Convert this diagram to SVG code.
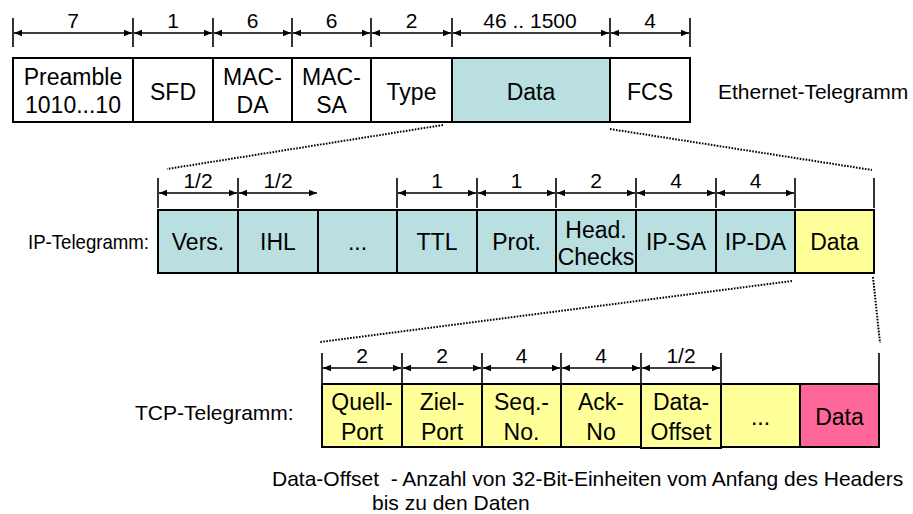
<svg xmlns="http://www.w3.org/2000/svg" width="913" height="514" viewBox="0 0 913 514">
  <defs>
    <marker id="tip" viewBox="0 0 8 8" refX="8" refY="4" markerWidth="8" markerHeight="8" markerUnits="userSpaceOnUse" orient="auto-start-reverse">
      <path d="M0,0.8 L8,4 L0,7.2 Z" fill="#000"/>
    </marker>
  </defs>
  <style>
    text { font-family: "Liberation Sans", Arial, sans-serif; fill: #000; }
    .lbl { font-size: 23px; text-anchor: middle; }
    .num { font-size: 21px; text-anchor: middle; }
    .side { font-size: 21px; }
    .note { font-size: 21px; }
    .cell { stroke: #000; stroke-width: 2; }
    .w { fill: #fff; }
    .b { fill: #b9dfe1; }
    .y { fill: #ffff99; }
    .p { fill: #ff6699; }
    .tick { stroke: #000; stroke-width: 1.6; }
    .dim { stroke: #000; stroke-width: 1.3; marker-start: url(#tip); marker-end: url(#tip); }
    .dot { stroke: #000; stroke-width: 2; stroke-dasharray: 1.6 1.4; fill: none; }
  </style>

  <!-- Ethernet frame -->
  <g id="eth-preamble"><rect class="cell w" x="13" y="58" width="120" height="64"/><text class="lbl" x="73" y="85">Preamble</text><text class="lbl" x="73" y="113">1010...10</text></g>
  <g id="eth-sfd"><rect class="cell w" x="133" y="58" width="80" height="64"/><text class="lbl" x="173" y="100">SFD</text></g>
  <g id="eth-macda"><rect class="cell w" x="213" y="58" width="79" height="64"/><text class="lbl" x="252.5" y="85">MAC-</text><text class="lbl" x="252.5" y="113">DA</text></g>
  <g id="eth-macsa"><rect class="cell w" x="292" y="58" width="79" height="64"/><text class="lbl" x="331.5" y="85">MAC-</text><text class="lbl" x="331.5" y="113">SA</text></g>
  <g id="eth-type"><rect class="cell w" x="371" y="58" width="81" height="64"/><text class="lbl" x="411.5" y="100">Type</text></g>
  <g id="eth-data"><rect class="cell b" x="452" y="58" width="158" height="64"/><text class="lbl" x="531" y="100">Data</text></g>
  <g id="eth-fcs"><rect class="cell w" x="610" y="58" width="80" height="64"/><text class="lbl" x="650" y="100">FCS</text></g>
  <g id="eth-title"><text class="side" x="718" y="99">Ethernet-Telegramm</text></g>

  <!-- IP packet -->
  <g id="ip-title"><text class="side" x="28" y="249" textLength="121" lengthAdjust="spacingAndGlyphs">IP-Telegramm:</text></g>
  <g id="ip-vers"><rect class="cell b" x="158" y="210" width="80" height="63"/><text class="lbl" x="198" y="250">Vers.</text></g>
  <g id="ip-ihl"><rect class="cell b" x="238" y="210" width="80" height="63"/><text class="lbl" x="278" y="250">IHL</text></g>
  <g id="ip-more"><rect class="cell b" x="318" y="210" width="79" height="63"/><text class="lbl" x="357.5" y="250">...</text></g>
  <g id="ip-ttl"><rect class="cell b" x="397" y="210" width="80" height="63"/><text class="lbl" x="437" y="250">TTL</text></g>
  <g id="ip-prot"><rect class="cell b" x="477" y="210" width="79" height="63"/><text class="lbl" x="516.5" y="250">Prot.</text></g>
  <g id="ip-checks"><rect class="cell b" x="556" y="210" width="80" height="63"/><text class="lbl" x="596" y="238">Head.</text><text class="lbl" x="596" y="265">Checks</text></g>
  <g id="ip-sa"><rect class="cell b" x="636" y="210" width="80" height="63"/><text class="lbl" x="676" y="250">IP-SA</text></g>
  <g id="ip-da"><rect class="cell b" x="716" y="210" width="79" height="63"/><text class="lbl" x="755.5" y="250">IP-DA</text></g>
  <g id="ip-data"><rect class="cell y" x="795" y="210" width="79" height="63"/><text class="lbl" x="834.5" y="250">Data</text></g>

  <!-- TCP segment -->
  <g id="tcp-title"><text class="side" x="135" y="420">TCP-Telegramm:</text></g>
  <g id="tcp-src"><rect class="cell y" x="322" y="384" width="80" height="63"/><text class="lbl" x="362" y="410">Quell-</text><text class="lbl" x="362" y="440">Port</text></g>
  <g id="tcp-dst"><rect class="cell y" x="402" y="384" width="80" height="63"/><text class="lbl" x="442" y="410">Ziel-</text><text class="lbl" x="442" y="440">Port</text></g>
  <g id="tcp-seq"><rect class="cell y" x="482" y="384" width="79" height="63"/><text class="lbl" x="521.5" y="410">Seq.-</text><text class="lbl" x="521.5" y="440">No.</text></g>
  <g id="tcp-ack"><rect class="cell y" x="561" y="384" width="80" height="63"/><text class="lbl" x="601" y="410">Ack-</text><text class="lbl" x="601" y="440">No</text></g>
  <g id="tcp-more"><rect class="cell y" x="721" y="384" width="79" height="63"/><text class="lbl" x="760.5" y="425">...</text></g>
  <g id="tcp-data"><rect class="cell p" x="800" y="384" width="79" height="63"/><text class="lbl" x="839.5" y="425">Data</text></g>
  <g id="tcp-offset"><rect class="cell y" x="641" y="384" width="80" height="64"/><text class="lbl" x="681" y="410">Data-</text><text class="lbl" x="681" y="440">Offset</text></g>

  <!-- footnote -->
  <g id="note">
    <text class="note" x="272" y="486" xml:space="preserve">Data-Offset  - Anzahl von 32-Bit-Einheiten vom Anfang des Headers</text>
    <text class="note" x="372" y="510">bis zu den Daten</text>
  </g>

  <!-- connectors: dimension lines and zoom guides -->
  <g id="connectors">
    <!-- Ethernet field sizes -->
    <path class="tick" d="M13,18V47 M133,18V47 M213,18V47 M292,18V47 M371,18V47 M452,18V47 M610,18V47 M690,18V47"/>
    <line class="dim" x1="14" y1="33" x2="132" y2="33"/>
    <line class="dim" x1="134" y1="33" x2="212" y2="33"/>
    <line class="dim" x1="214" y1="33" x2="291" y2="33"/>
    <line class="dim" x1="293" y1="33" x2="370" y2="33"/>
    <line class="dim" x1="372" y1="33" x2="451" y2="33"/>
    <line class="dim" x1="453" y1="33" x2="609" y2="33"/>
    <line class="dim" x1="611" y1="33" x2="689" y2="33"/>
    <text class="num" x="73" y="28">7</text>
    <text class="num" x="173" y="28">1</text>
    <text class="num" x="252.5" y="28">6</text>
    <text class="num" x="331.5" y="28">6</text>
    <text class="num" x="411.5" y="28">2</text>
    <text class="num" x="530" y="28">46 .. 1500</text>
    <text class="num" x="650" y="28">4</text>

    <!-- IP field sizes -->
    <path class="tick" d="M158,178V208 M238,178V208 M397,178V208 M477,178V208 M556,178V208 M636,178V208 M716,178V208 M795,178V208 M874,178V208"/>
    <line class="dim" x1="159" y1="193" x2="237" y2="193"/>
    <line class="dim" x1="239" y1="193" x2="317" y2="193"/>
    <line class="dim" x1="398" y1="193" x2="476" y2="193"/>
    <line class="dim" x1="478" y1="193" x2="555" y2="193"/>
    <line class="dim" x1="557" y1="193" x2="635" y2="193"/>
    <line class="dim" x1="637" y1="193" x2="715" y2="193"/>
    <line class="dim" x1="717" y1="193" x2="794" y2="193"/>
    <text class="num" x="198" y="188">1/2</text>
    <text class="num" x="278" y="188">1/2</text>
    <text class="num" x="437" y="188">1</text>
    <text class="num" x="516.5" y="188">1</text>
    <text class="num" x="596" y="188">2</text>
    <text class="num" x="676" y="188">4</text>
    <text class="num" x="755.5" y="188">4</text>

    <!-- TCP field sizes -->
    <path class="tick" d="M322,353V383 M402,353V383 M482,353V383 M561,353V383 M641,353V383 M721,353V383 M879,353V383"/>
    <line class="dim" x1="323" y1="368" x2="401" y2="368"/>
    <line class="dim" x1="403" y1="368" x2="481" y2="368"/>
    <line class="dim" x1="483" y1="368" x2="560" y2="368"/>
    <line class="dim" x1="562" y1="368" x2="640" y2="368"/>
    <line class="dim" x1="642" y1="368" x2="720" y2="368"/>
    <text class="num" x="362" y="363">2</text>
    <text class="num" x="442" y="363">2</text>
    <text class="num" x="521.5" y="363">4</text>
    <text class="num" x="601" y="363">4</text>
    <text class="num" x="681" y="363">1/2</text>

    <!-- zoom guides -->
    <line class="dot" x1="443" y1="125" x2="167" y2="169"/>
    <line class="dot" x1="610" y1="129" x2="872" y2="170"/>
    <line class="dot" x1="792" y1="281" x2="320" y2="342"/>
    <line class="dot" x1="873" y1="277" x2="880" y2="343"/>
  </g>
</svg>
